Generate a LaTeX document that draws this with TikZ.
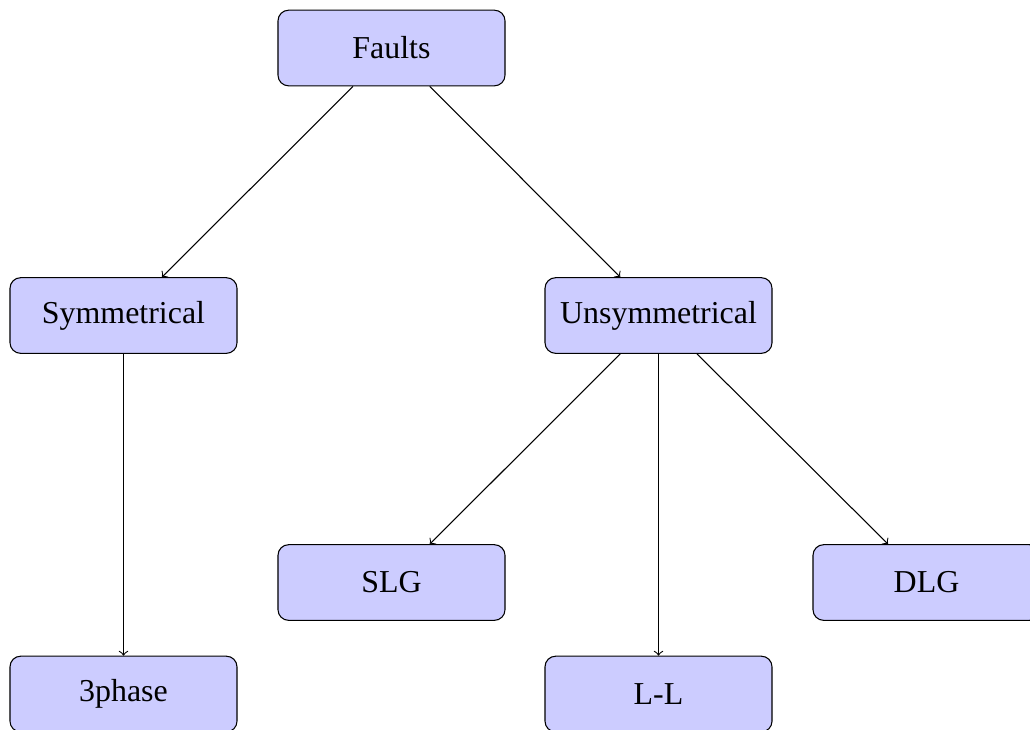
\documentclass[tikz,border=0pt]{standalone}
\usepackage{fontspec}
\setmainfont{Liberation Serif}
\begin{document}
\begin{tikzpicture}[x=0.376pt,y=-0.376pt,
  box/.style={draw, rounded corners=4pt, fill=blue!20, minimum width=3cm, minimum height=1cm, font=\fontsize{12}{14}\selectfont, inner sep=0pt},
  link/.style={->, line width=0.4pt}]
\useasboundingbox (0,0) rectangle (1030,729);
\node[box] (faults) at (391.5,48) {Faults};
\node[box] (sym) at (123.5,315.5) {Symmetrical};
\node[box] (unsym) at (658.5,315.5) {Unsymmetrical};
\node[box] (slg) at (391.5,582.5) {SLG};
\node[box] (dlg) at (926.5,582.5) {DLG};
\node[box] (three) at (123.5,694) {3phase};
\node[box] (ll) at (658.5,694) {L-L};
\draw[link] (faults) -- (sym);
\draw[link] (faults) -- (unsym);
\draw[link] (sym) -- (three);
\draw[link] (unsym) -- (slg);
\draw[link] (unsym) -- (ll);
\draw[link] (unsym) -- (dlg);
\end{tikzpicture}
\end{document}
